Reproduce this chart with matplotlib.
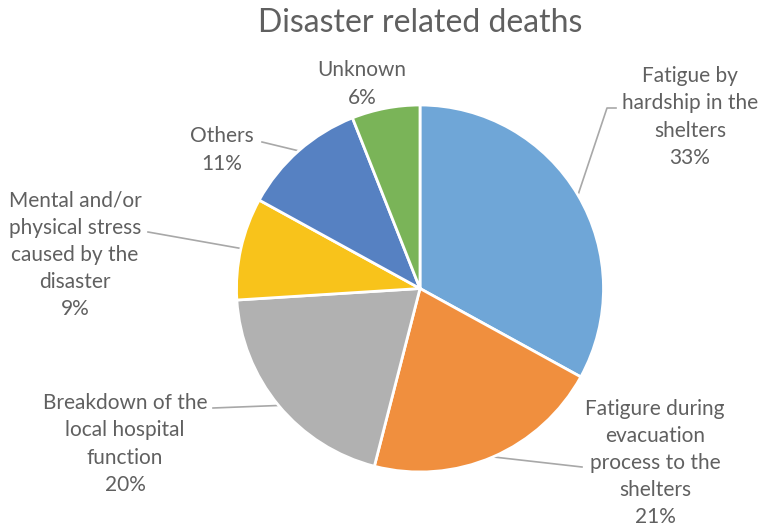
"""Pie chart of disaster related deaths by cause, with leader-line labels."""

import matplotlib.pyplot as plt
import numpy as np

# Causes in clockwise order starting at 12 o'clock
CAUSES = [
    "Fatigue by\nhardship in the\nshelters",
    "Fatigure during\nevacuation\nprocess to the\nshelters",
    "Breakdown of the\nlocal hospital\nfunction",
    "Mental and/or\nphysical stress\ncaused by the\ndisaster",
    "Others",
    "Unknown",
]
SHARES = [33, 21, 20, 9, 11, 6]
COLORS = ["#6FA6D7", "#F08F3E", "#B1B1B1", "#F8C31B", "#5681C2", "#7AB458"]

TITLE = "Disaster related deaths"

# Canvas in pixel units (y measured upward)
W, H = 768, 529
CENTER = (420, H - 288.5)
RADIUS = 183.5

# Label block centres and leader-line anchors (pixels from top-left)
LABEL_POS = [(690, 117), (655, 463), (125, 444), (75, 255), (222, 150), (362, 84)]
LEADER_ANCHOR = [[(616, 108), (607, 108)], [(582, 467)], [(213, 408)],
                 [(148, 232)], [(262, 142)], None]

TEXT_COLOR = "#606060"
LINE_COLOR = "#A8A8A8"

plt.rcParams["font.family"] = ["Lato", "DejaVu Sans"]

fig = plt.figure(figsize=(W / 100, H / 100), dpi=100)
ax = fig.add_axes([0, 0, 1, 1])

wedges, _ = ax.pie(
    SHARES,
    colors=COLORS,
    startangle=90,
    counterclock=False,
    center=CENTER,
    radius=RADIUS,
    frame=True,
    wedgeprops=dict(edgecolor="white", linewidth=2),
)

for wedge, cause, share, pos, anchor in zip(wedges, CAUSES, SHARES, LABEL_POS, LEADER_ANCHOR):
    ax.text(pos[0], H - pos[1], f"{cause}\n{share}%", ha="center", va="center",
            fontsize=15, color=TEXT_COLOR, linespacing=1.45)
    if anchor is None:
        continue
    mid = np.deg2rad((wedge.theta1 + wedge.theta2) / 2)
    edge = (CENTER[0] + RADIUS * np.cos(mid), CENTER[1] + RADIUS * np.sin(mid))
    xs = [p[0] for p in anchor] + [edge[0]]
    ys = [H - p[1] for p in anchor] + [edge[1]]
    ax.plot(xs, ys, color=LINE_COLOR, linewidth=1.2, zorder=0)

ax.text(420, H - 23, TITLE, ha="center", va="center",
        fontsize=23, color=TEXT_COLOR)

ax.set_xlim(0, W)
ax.set_ylim(0, H)
ax.set_aspect("equal")
ax.axis("off")

fig.savefig("out.png", dpi=100, facecolor="white")
